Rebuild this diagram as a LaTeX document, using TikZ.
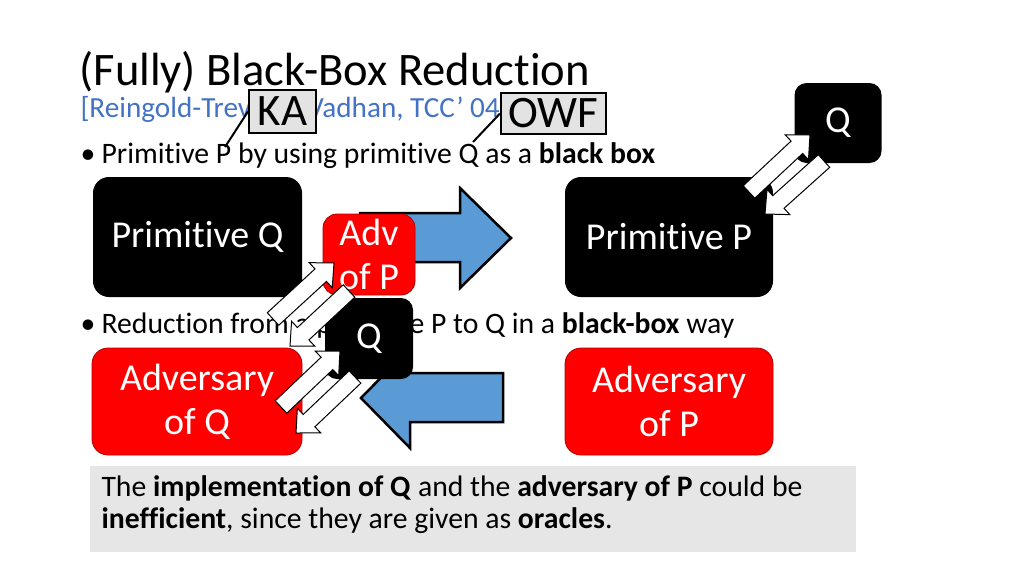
\documentclass[tikz,border=0pt]{standalone}
\usepackage{fontspec}
\setmainfont{Carlito}[Ligatures=NoCommon]
\usetikzlibrary{calc}
\definecolor{subblue}{HTML}{4472C4}
\definecolor{arrblue}{HTML}{5B9BD5}
\definecolor{notegray}{HTML}{E7E6E6}
\definecolor{taggray}{HTML}{E3E3E3}
\definecolor{redline}{HTML}{B00000}
\newcommand\blockarr[2]{%
  \coordinate (hb-#1) at ($(#2)!18pt!(#1)$);
  \draw[whitearr] ($(#1)!8.5pt!90:(#2)$) -- ($(hb-#1)!8.5pt!90:(#2)$)
    -- ($(hb-#1)!17pt!90:(#2)$) -- (#2) -- ($(hb-#1)!17pt!-90:(#2)$)
    -- ($(hb-#1)!8.5pt!-90:(#2)$) -- ($(#1)!8.5pt!-90:(#2)$) -- cycle;}
\begin{document}
\begin{tikzpicture}[x=1pt,y=-1pt,
  bigblack/.style={fill=black, rounded corners=16pt, text=white, inner sep=0pt,
    font=\fontsize{38}{44}\selectfont, align=center},
  qbox/.style={fill=black, rounded corners=12pt, text=white, inner sep=0pt,
    minimum width=87pt, minimum height=80pt, font=\fontsize{38}{44}\selectfont},
  redbox/.style={fill=red, draw=redline, line width=0.8pt, rounded corners=14pt,
    text=white, inner sep=0pt, font=\fontsize{38}{44}\selectfont, align=center},
  tagbox/.style={fill=taggray, draw=black, line width=2pt, inner sep=0pt,
    font=\fontsize{45}{50}\selectfont},
  blueshape/.style={fill=arrblue, draw=black, line width=2.5pt, line join=miter},
  whitearr/.style={fill=white, draw=black, line width=1pt, line join=miter},
  bodytext/.style={anchor=base west, font=\fontsize{29.7}{34}\selectfont},
  calllink/.style={draw=black, line width=2pt}]
\useasboundingbox (0,0) rectangle (1024,576);

% title and citation
\node[anchor=base west, font=\fontsize{46.6}{52}\selectfont] (title) at (76,85) {(Fully) Black-Box Reduction};
\node[anchor=base west, text=subblue, font=\fontsize{29.2}{34}\selectfont] (cite) at (77,117) {[Reingold-Trevisan-Vadhan, TCC’ 04]};

% callout tags
\node[tagbox, minimum width=67pt, minimum height=43pt] (ka) at (282.5,111.5) {KA};
\node[tagbox, minimum width=105pt, minimum height=41pt] (owf) at (553.5,113.5) {OWF};
\coordinate (kaend) at (225,147);
\coordinate (owfend) at (473,142);
\draw[calllink] (kaend) -- (ka.west);
\draw[calllink] (owfend) -- (owf.west);

% bullet 1
\node[bodytext] (b1) at (77,163) {\makebox[21pt][l]{\textbullet}Primitive P by using primitive Q as a \textbf{black box}};

% first row
\node[bigblack, minimum width=209pt, minimum height=120pt] (primQ) at (197.5,237) {Primitive Q};
\draw[blueshape] (360,213) -- (460,213) -- (460,188) -- (511,238) -- (460,288) -- (460,262) -- (360,262) -- cycle;
\node[redbox, minimum width=92pt, minimum height=81pt] (advP) at (369,254.5) {Adv\\of P};
\node[bigblack, minimum width=208pt, minimum height=120pt] (primP) at (669,237) {Primitive P};
\node[qbox] (qtop) at (838,123) {Q};

% bullet 2
\node[bodytext] (b2) at (77,333) {\makebox[21pt][l]{\textbullet}Reduction from a primitive P to Q in a \textbf{black-box} way};

% second row
\node[redbox, rounded corners=16pt, minimum width=210pt, minimum height=107pt] (advQ) at (197,401.5) {Adversary\\of Q};
\node[redbox, rounded corners=16pt, minimum width=208pt, minimum height=107pt] (advPP) at (669,401.5) {Adversary\\of P};
\draw[blueshape] (503,373) -- (410,373) -- (410,348) -- (361,398) -- (410,448) -- (410,422) -- (503,422) -- cycle;
\node[qbox, minimum width=88pt, minimum height=81pt] (qmid) at (369,338.5) {Q};

% oracle query arrows
\coordinate (t1) at (749,192); \coordinate (h1) at (810,135);
\coordinate (t2) at (824,161); \coordinate (h2) at (765,214);
\coordinate (t3) at (273,319); \coordinate (h3) at (334,263);
\coordinate (t4) at (349,291); \coordinate (h4) at (290,346);
\coordinate (t5) at (281,407); \coordinate (h5) at (340,351);
\coordinate (t6) at (355,377); \coordinate (h6) at (296,433);
\blockarr{t1}{h1}
\blockarr{t2}{h2}
\blockarr{t3}{h3}
\blockarr{t4}{h4}
\blockarr{t5}{h5}
\blockarr{t6}{h6}

% note box
\node[fill=notegray, anchor=north west, minimum width=766pt, minimum height=86pt, inner sep=0pt] (note) at (90,466) {};
\node[bodytext] (n1) at (98,496) {The \textbf{implementation of Q} and the \textbf{adversary of P} could be};
\node[bodytext] (n2) at (98,528) {\textbf{inefficient}, since they are given as \textbf{oracles}.};
\end{tikzpicture}
\end{document}
